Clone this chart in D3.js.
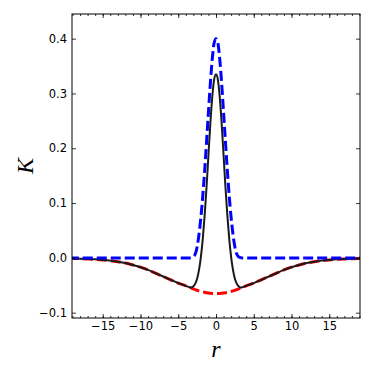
<!DOCTYPE html>
<html>
<head>
<meta charset="utf-8">
<script src="https://d3js.org/d3.v7.min.js"></script>
<style>
  body { margin: 0; background: #fff; }
</style>
</head>
<body>
<svg id="chart" width="374" height="374"></svg>
<script>
  // sample positions along r
  var rVals = [-19.5, -19, -18, -17, -16, -15, -14, -13, -12, -11, -10, -9, -8, -7, -6, -5, -4,
    -3.5, -3.25, -3, -2.75, -2.5, -2.25, -2, -1.75, -1.5, -1.25, -1, -0.75, -0.5, -0.25,
    0, 0.25, 0.5, 0.75, 1, 1.25, 1.5, 1.75, 2, 2.25, 2.5, 2.75, 3, 3.25, 3.5,
    4, 5, 6, 7, 8, 9, 10, 11, 12, 13, 14, 15, 16, 17, 18, 19, 19.5];

  // blue dashed
  var blueVals = [0, 0, 0, 0, 0, 0, 0, 0, 0, 0, 0, 0, 0, 0, 0, 0, 0,
    0, 0.0005, 0.002, 0.007, 0.020, 0.043, 0.074, 0.113, 0.160, 0.212, 0.266, 0.318, 0.362, 0.392,
    0.400, 0.392, 0.362, 0.318, 0.266, 0.212, 0.160, 0.113, 0.074, 0.043, 0.020, 0.007, 0.002, 0.0005, 0,
    0, 0, 0, 0, 0, 0, 0, 0, 0, 0, 0, 0, 0, 0, 0, 0, 0];

  // red dashed
  var redVals = [-0.0009, -0.001, -0.0014, -0.002, -0.0027, -0.0037, -0.005, -0.007, -0.0095, -0.013, -0.017, -0.022, -0.028, -0.034, -0.040, -0.046, -0.051,
    -0.0535, -0.055, -0.0565, -0.058, -0.0592, -0.0603, -0.0612, -0.062, -0.0628, -0.0636, -0.0641, -0.0645, -0.0648, -0.065,
    -0.065, -0.065, -0.0648, -0.0645, -0.0641, -0.0636, -0.0628, -0.062, -0.0612, -0.0603, -0.0592, -0.058, -0.0565, -0.055, -0.0535,
    -0.051, -0.046, -0.040, -0.034, -0.028, -0.022, -0.017, -0.013, -0.0095, -0.007, -0.005, -0.0037, -0.0027, -0.002, -0.0014, -0.001, -0.0009];

  // black solid
  var blackVals = [-0.0009, -0.001, -0.0014, -0.002, -0.0027, -0.0037, -0.005, -0.007, -0.0095, -0.013, -0.017, -0.022, -0.028, -0.034, -0.040, -0.046, -0.051,
    -0.0535, -0.054, -0.052, -0.047, -0.038, -0.022, 0.002, 0.035, 0.078, 0.130, 0.188, 0.245, 0.293, 0.325,
    0.335, 0.325, 0.293, 0.245, 0.188, 0.130, 0.078, 0.035, 0.002, -0.022, -0.038, -0.047, -0.052, -0.054, -0.0535,
    -0.051, -0.046, -0.040, -0.034, -0.028, -0.022, -0.017, -0.013, -0.0095, -0.007, -0.005, -0.0037, -0.0027, -0.002, -0.0014, -0.001, -0.0009];

  var xTicks = [-15, -10, -5, 0, 5, 10, 15];
  var xMinor = d3.range(-19, 20, 1);
  var yTicks = [-0.1, 0.0, 0.1, 0.2, 0.3, 0.4];

  var margin = {left: 72, right: 14, top: 14, bottom: 56};
  var W = 374, H = 374;
  var svg = d3.select('#chart');

  var x = d3.scaleLinear().domain([-19.07, 19.07]).range([margin.left, W - margin.right]);
  var y = d3.scaleLinear().domain([-0.1097, 0.445]).range([H - margin.bottom, margin.top]);

  svg.append('defs').append('clipPath').attr('id', 'clip')
    .append('rect')
    .attr('x', margin.left).attr('y', margin.top)
    .attr('width', W - margin.left - margin.right)
    .attr('height', H - margin.top - margin.bottom);

  var line = function(vals) {
    return d3.line()
      .x(function(d, i) { return x(rVals[i]); })
      .y(function(d) { return y(d); })
      .curve(d3.curveMonotoneX)(vals);
  };

  var plot = svg.append('g').attr('clip-path', 'url(#clip)');

  plot.append('path').attr('d', line(redVals))
    .attr('fill', 'none').attr('stroke', '#ff0000')
    .attr('stroke-width', 3).attr('stroke-dasharray', '10,4');

  plot.append('path').attr('d', line(blackVals))
    .attr('fill', 'none').attr('stroke', '#1a1a1a')
    .attr('stroke-width', 2);

  plot.append('path').attr('d', line(blueVals))
    .attr('fill', 'none').attr('stroke', '#0000ff')
    .attr('stroke-width', 3).attr('stroke-dasharray', '10,4');

  var fmtY = function(d) { return d3.format('.1f')(d).replace('-', '\u2212'); };
  var fmtX = function(d) { return String(d).replace('-', '\u2212'); };

  // bottom
  svg.append('g').attr('transform', 'translate(0,' + (H - margin.bottom) + ')')
    .call(d3.axisBottom(x).tickValues(xTicks).tickFormat(fmtX).tickSizeInner(-4).tickSizeOuter(0).tickPadding(4));
  svg.append('g').attr('transform', 'translate(0,' + (H - margin.bottom) + ')')
    .call(d3.axisBottom(x).tickValues(xMinor).tickFormat('').tickSizeInner(-2).tickSizeOuter(0));
  // top
  svg.append('g').attr('transform', 'translate(0,' + margin.top + ')')
    .call(d3.axisTop(x).tickValues(xTicks).tickFormat('').tickSizeInner(-4).tickSizeOuter(0));
  svg.append('g').attr('transform', 'translate(0,' + margin.top + ')')
    .call(d3.axisTop(x).tickValues(xMinor).tickFormat('').tickSizeInner(-2).tickSizeOuter(0));
  // left
  svg.append('g').attr('transform', 'translate(' + margin.left + ',0)')
    .call(d3.axisLeft(y).tickValues(yTicks).tickFormat(fmtY).tickSizeInner(-4).tickSizeOuter(0).tickPadding(5));
  // right
  svg.append('g').attr('transform', 'translate(' + (W - margin.right) + ',0)')
    .call(d3.axisRight(y).tickValues(yTicks).tickFormat('').tickSizeInner(-4).tickSizeOuter(0));

  svg.selectAll('.domain').remove();
  svg.selectAll('.tick line').attr('stroke', '#000').attr('stroke-width', 0.8);
  svg.selectAll('.tick text').attr('font-size', '11.5px').attr('fill', '#000')
    .attr('font-family', '"DejaVu Sans", sans-serif');

  svg.append('rect')
    .attr('x', margin.left).attr('y', margin.top)
    .attr('width', W - margin.left - margin.right)
    .attr('height', H - margin.top - margin.bottom)
    .attr('fill', 'none').attr('stroke', '#000').attr('stroke-width', 1);

  svg.append('text')
    .attr('x', x(0)).attr('y', 357)
    .attr('text-anchor', 'middle')
    .attr('font-family', '"Liberation Serif", serif').attr('font-style', 'italic')
    .attr('font-size', '24px')
    .text('r');

  svg.append('text')
    .attr('transform', 'translate(33,' + y(0.1675) + ') rotate(-90)')
    .attr('text-anchor', 'middle')
    .attr('font-family', '"Liberation Serif", serif').attr('font-style', 'italic')
    .attr('font-size', '24px')
    .text('K');
</script>
</body>
</html>
